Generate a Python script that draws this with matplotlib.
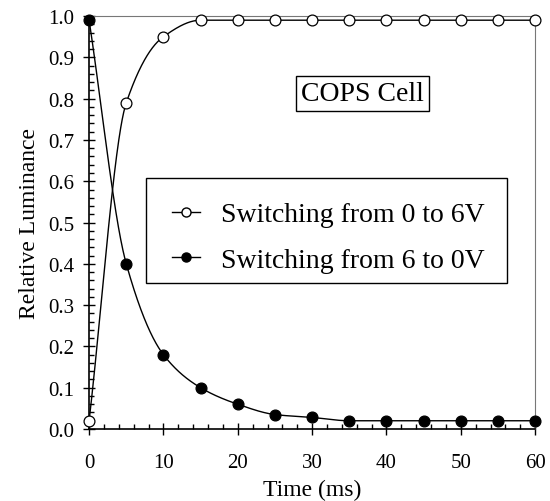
import numpy as np
import matplotlib

matplotlib.use("Agg")
import matplotlib.pyplot as plt
from matplotlib.lines import Line2D
from matplotlib.patches import Rectangle

# data
time_ms = [0, 5, 10, 15, 20, 25, 30, 35, 40, 45, 50, 55, 60]
lum_0_to_6 = [0.02, 0.79, 0.95, 0.99, 0.99, 0.99, 0.99, 0.99, 0.99, 0.99, 0.99, 0.99, 0.99]
lum_6_to_0 = [0.99, 0.40, 0.18, 0.10, 0.06, 0.035, 0.028, 0.02, 0.02, 0.02, 0.02, 0.02, 0.02]
labels = ["Switching from 0 to 6V", "Switching from 6 to 0V"]


def pchip(x, y, xs):
    # monotone cubic, only used to draw the smooth connecting line
    x = np.asarray(x, float)
    y = np.asarray(y, float)
    h = np.diff(x)
    d = np.diff(y) / h
    m = np.zeros_like(y)
    for k in range(1, len(y) - 1):
        if d[k - 1] * d[k] > 0:
            w1 = 2 * h[k] + h[k - 1]
            w2 = h[k] + 2 * h[k - 1]
            m[k] = (w1 + w2) / (w1 / d[k - 1] + w2 / d[k])
    m[0] = d[0]
    m[-1] = d[-1]
    idx = np.clip(np.searchsorted(x, xs) - 1, 0, len(x) - 2)
    t = (xs - x[idx]) / h[idx]
    h00 = 2 * t**3 - 3 * t**2 + 1
    h10 = t**3 - 2 * t**2 + t
    h01 = -2 * t**3 + 3 * t**2
    h11 = t**3 - t**2
    return h00 * y[idx] + h10 * h[idx] * m[idx] + h01 * y[idx + 1] + h11 * h[idx] * m[idx + 1]


plt.rcParams["font.family"] = ["Liberation Serif", "DejaVu Serif"]

fig = plt.figure(figsize=(5.5, 5.02), dpi=100)
ax = fig.add_axes([0.162, 0.1434, 0.811, 0.8226])

xs = np.linspace(0, 60, 1200)
ax.plot(xs, pchip(time_ms, lum_0_to_6, xs), color="black", lw=1.0)
ax.plot(xs, pchip(time_ms, lum_6_to_0, xs), color="black", lw=1.0)
ax.plot(time_ms, lum_0_to_6, "o", color="black", mfc="white", mec="black",
        ms=7.8, mew=0.9, clip_on=False, zorder=3)
ax.plot(time_ms, lum_6_to_0, "o", color="black", mfc="black", mec="black",
        ms=7.8, mew=0.9, clip_on=False, zorder=3)

ax.set_xlim(0, 60)
ax.set_ylim(0, 1.0)
ax.set_xticks(np.arange(0, 61, 10))
ax.set_yticks(np.arange(0, 1.01, 0.1))
ax.set_yticklabels([f"{v:.1f}" for v in np.arange(0, 1.01, 0.1)])
ax.set_xticks(np.arange(0, 61, 2), minor=True)
ax.set_yticks(np.arange(0, 1.001, 0.02), minor=True)
ax.tick_params(axis="both", which="major", direction="inout", length=8.5, width=1.0,
               labelsize=15, top=False, right=False)
ax.tick_params(axis="both", which="minor", direction="in", length=3.5, width=1.0,
               top=False, right=False)
ax.tick_params(axis="x", which="major", pad=13)
ax.tick_params(axis="y", which="major", pad=6.5)

for s in ["left", "bottom"]:
    ax.spines[s].set_linewidth(1.2)
    ax.spines[s].set_color("black")
for s in ["top", "right"]:
    ax.spines[s].set_linewidth(0.8)
    ax.spines[s].set_color("#777777")

ax.set_xlabel("Time (ms)", fontsize=17, labelpad=5)
ax.set_ylabel("Relative Luminance", fontsize=17, labelpad=6)

# legend frame drawn separately (the original box is not symmetric around the entries)
ax.add_patch(Rectangle((0.128, 0.3535), 0.809, 0.2545, transform=ax.transAxes,
                       fc="white", ec="black", lw=1.0, zorder=4))
leg_h1 = Line2D([], [], color="black", marker="o", mfc="white", mec="black", ms=6.5, lw=1.0)
leg_h2 = Line2D([], [], color="black", marker="o", mfc="black", mec="black", ms=6.5, lw=1.0)
leg = ax.legend([leg_h1, leg_h2], labels, loc="upper left", bbox_to_anchor=(0.139, 0.6005),
                fontsize=20, frameon=False, handlelength=1.0, handletextpad=0.75,
                labelspacing=0.72, borderpad=0.75, borderaxespad=0)
leg.set_zorder(5)

ax.text(0.612, 0.813, "COPS Cell", transform=ax.transAxes, fontsize=20,
        ha="center", va="center",
        bbox=dict(boxstyle="square,pad=0.18", fc="white", ec="black", lw=1.0))

fig.savefig("out.png", dpi=100)
